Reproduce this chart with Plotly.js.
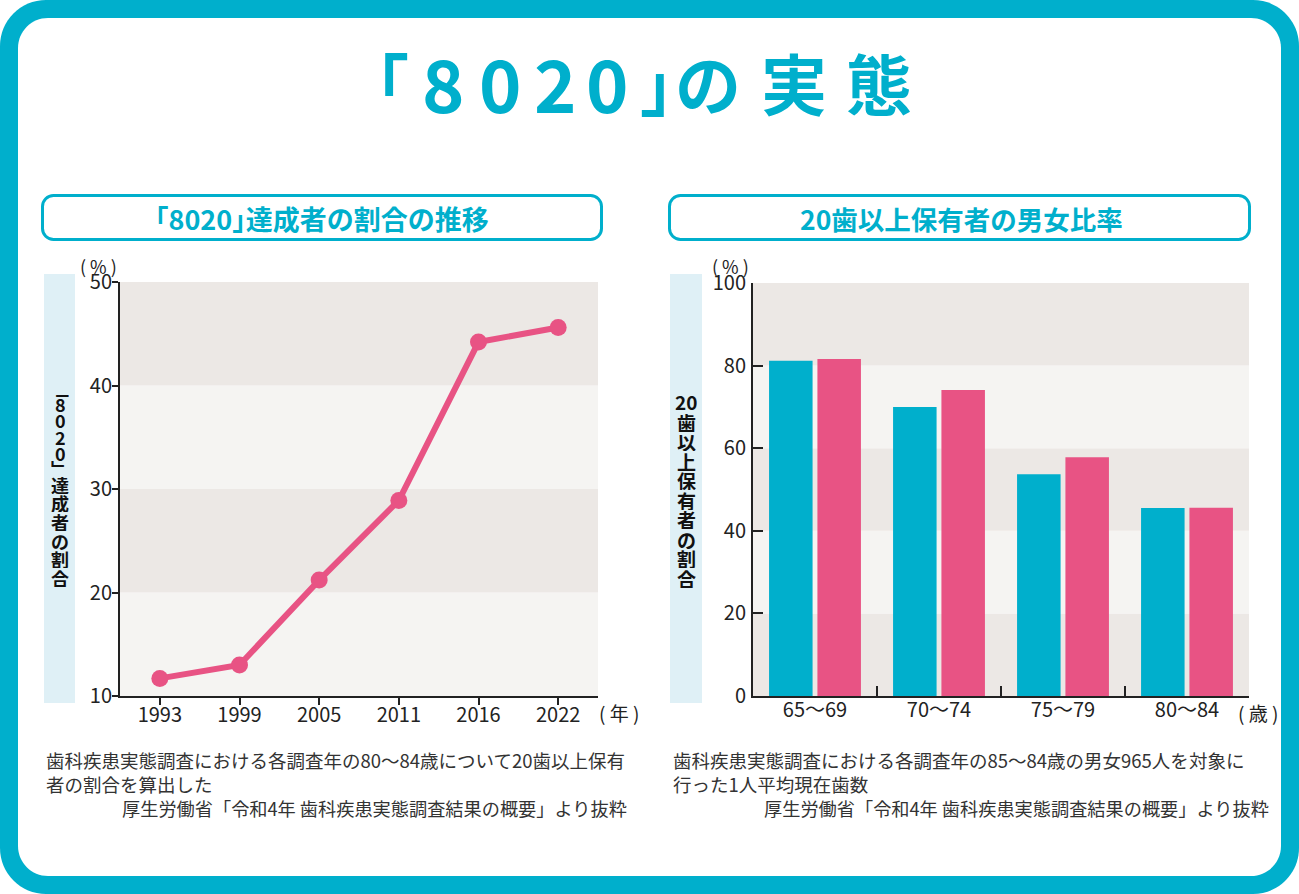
<!DOCTYPE html>
<html>
<head>
<meta charset="utf-8">
<script src="https://cdn.plot.ly/plotly-3.0.1.min.js"></script>
<style>
  html, body { margin: 0; padding: 0; background: #ffffff; }
  #chart { width: 1299px; height: 894px; }
</style>
</head>
<body>
<div id="chart"></div>
<script>
// ---- data ----
const years = ['1993', '1999', '2005', '2011', '2016', '2022'];
const rate8020 = [11.7, 13.0, 21.2, 28.9, 44.2, 45.6];

const ageGroups = ['65〜69', '70〜74', '75〜79', '80〜84'];
const maleRate = [81.2, 70.0, 53.7, 45.5];
const femaleRate = [81.6, 74.1, 57.8, 45.6];

const lineTicks = [10, 20, 30, 40, 50];
const barTicks = [0, 20, 40, 60, 80, 100];

// ---- styling ----
const W = 1299, H = 894;
const CYAN = '#00afcc';
const PINK = '#e85384';
const BAND_DARK = '#ece8e5';
const BAND_LIGHT = '#f5f4f2';
const FONT = '"Noto Sans CJK JP", "Noto Sans", sans-serif';
const TXT = '#222222';

const px = x => x / W;
const py = y => 1 - y / H;

function roundRectPath(x0, y0, x1, y1, r) {
  const k = 0.5523 * r;
  const P = (x, y) => px(x) + ',' + py(y);
  return 'M' + P(x0 + r, y0) +
    ' L' + P(x1 - r, y0) +
    ' C' + P(x1 - r + k, y0) + ' ' + P(x1, y0 + r - k) + ' ' + P(x1, y0 + r) +
    ' L' + P(x1, y1 - r) +
    ' C' + P(x1, y1 - r + k) + ' ' + P(x1 - r + k, y1) + ' ' + P(x1 - r, y1) +
    ' L' + P(x0 + r, y1) +
    ' C' + P(x0 + r - k, y1) + ' ' + P(x0, y1 - r + k) + ' ' + P(x0, y1 - r) +
    ' L' + P(x0, y0 + r) +
    ' C' + P(x0, y0 + r - k) + ' ' + P(x0 + r - k, y0) + ' ' + P(x0 + r, y0) + ' Z';
}

const shapes = [];
// outer frame
shapes.push({type: 'path', xref: 'paper', yref: 'paper', layer: 'below',
  path: roundRectPath(0, 0, W, H, 46), fillcolor: CYAN, line: {width: 0}});
shapes.push({type: 'path', xref: 'paper', yref: 'paper', layer: 'below',
  path: roundRectPath(18, 18, 1281, 876, 30), fillcolor: '#ffffff', line: {width: 0}});
// header boxes
shapes.push({type: 'path', xref: 'paper', yref: 'paper', layer: 'below',
  path: roundRectPath(42.5, 195.5, 601.5, 239.5, 11), fillcolor: '#ffffff', line: {color: CYAN, width: 3}});
shapes.push({type: 'path', xref: 'paper', yref: 'paper', layer: 'below',
  path: roundRectPath(669.5, 195.5, 1249.5, 239.5, 11), fillcolor: '#ffffff', line: {color: CYAN, width: 3}});
// axis title boxes
shapes.push({type: 'rect', xref: 'paper', yref: 'paper', layer: 'below',
  x0: px(44), x1: px(75), y0: py(703), y1: py(274), fillcolor: '#dff0f6', line: {width: 0}});
shapes.push({type: 'rect', xref: 'paper', yref: 'paper', layer: 'below',
  x0: px(670), x1: px(702), y0: py(703), y1: py(274), fillcolor: '#dff0f6', line: {width: 0}});

// bands (alternating, drawn on axes)
for (let i = 0; i < lineTicks.length - 1; i++) {
  const top = lineTicks.length - 2 - i;
  shapes.push({type: 'rect', xref: 'x', yref: 'y', layer: 'below',
    x0: -0.5, x1: years.length - 0.5, y0: lineTicks[i], y1: lineTicks[i + 1],
    fillcolor: (top % 2 === 0) ? BAND_DARK : BAND_LIGHT, line: {width: 0}});
}
for (let i = 0; i < barTicks.length - 1; i++) {
  const top = barTicks.length - 2 - i;
  shapes.push({type: 'rect', xref: 'x2', yref: 'y2', layer: 'below',
    x0: -0.5, x1: ageGroups.length - 0.5, y0: barTicks[i], y1: barTicks[i + 1],
    fillcolor: (top % 2 === 0) ? BAND_DARK : BAND_LIGHT, line: {width: 0}});
}

const annotations = [];
function addText(text, x, y, size, opts) {
  opts = opts || {};
  const a = {
    text: text, xref: 'paper', yref: 'paper', x: px(x), y: py(y),
    xanchor: opts.xanchor || 'center', yanchor: opts.yanchor || 'middle',
    showarrow: false, align: opts.align || 'left', borderpad: 0,
    font: {family: FONT, size: size, color: opts.color || TXT, weight: opts.weight || 400}
  };
  if (opts.height) a.height = opts.height;
  if (opts.width) a.width = opts.width;
  annotations.push(a);
}

// main title (spaced characters)
const titleChars = ['｢', '8', '0', '2', '0', '｣', 'の', '実', '態'];
const titleX = [392, 443, 500, 555, 607, 656, 708, 794, 879];
const titleSize = [66, 72, 72, 72, 72, 66, 66, 66, 66];
titleChars.forEach((c, i) => addText(c, titleX[i], 81, titleSize[i], {color: CYAN, weight: 700}));

// panel headers
addText('｢8020｣達成者の割合の推移', 322, 218, 27, {color: CYAN, weight: 700});
addText('20歯以上保有者の男女比率', 961, 218, 26.5, {color: CYAN, weight: 700});

// vertical axis titles (tategaki)
const leftTitle = ['﹁', '8', '0', '2', '0', '﹂', '達', '成', '者', 'の', '割', '合'];
const leftTitleY = [391, 404, 420, 437, 453, 467, 485, 503.5, 522, 540.5, 559, 577.5];
const leftStep = [13, 16, 16, 16, 16, 13, 18, 18, 18, 18, 18, 18];
leftTitle.forEach((c, i) => addText(c, 60, leftTitleY[i], 18, {weight: 700, color: '#111', height: leftStep[i]}));
const rightTitle = ['20', '歯', '以', '上', '保', '有', '者', 'の', '割', '合'];
const rightTitleY = [401, 422, 441.5, 461, 480.5, 500, 519.5, 539, 558.5, 578];
rightTitle.forEach((c, i) => addText(c, 686, rightTitleY[i], 19, {weight: 700, color: '#111', height: 19}));

// unit labels
addText('( % )', 99, 266, 18);
addText('( % )', 730, 266, 18);
addText('( 年 )', 619, 712, 19);
addText('( 歳 )', 1258, 712, 19);

// footnotes
const FN = 18.5;
addText('歯科疾患実態調査における各調査年の80〜84歳について20歯以上保有', 45, 760, FN, {xanchor: 'left', color: '#333'});
addText('者の割合を算出した', 45, 784, FN, {xanchor: 'left', color: '#333'});
addText('厚生労働省「令和4年 歯科疾患実態調査結果の概要」より抜粋', 628, 808, 18.2, {xanchor: 'right', color: '#333'});
addText('歯科疾患実態調査における各調査年の85〜84歳の男女965人を対象に', 672, 760, FN, {xanchor: 'left', color: '#333'});
addText('行った1人平均現在歯数', 672, 784, FN, {xanchor: 'left', color: '#333'});
addText('厚生労働省「令和4年 歯科疾患実態調査結果の概要」より抜粋', 1270, 808, 18.2, {xanchor: 'right', color: '#333'});

const traces = [
  {type: 'scatter', mode: 'lines+markers', x: years, y: rate8020,
   xaxis: 'x', yaxis: 'y', line: {color: PINK, width: 6},
   marker: {color: PINK, size: 17}, cliponaxis: false, hoverinfo: 'x+y'},
  {type: 'bar', name: '男性', x: ageGroups, y: maleRate, xaxis: 'x2', yaxis: 'y2',
   marker: {color: CYAN, line: {width: 0}}},
  {type: 'bar', name: '女性', x: ageGroups, y: femaleRate, xaxis: 'x2', yaxis: 'y2',
   marker: {color: PINK, line: {width: 0}}}
];

const axisCommon = {
  showline: true, linecolor: TXT, linewidth: 2, showgrid: false, zeroline: false,
  tickcolor: TXT, tickwidth: 2, fixedrange: true,
  tickfont: {family: FONT, size: 20, color: TXT}
};

const layout = {
  width: W, height: H,
  margin: {l: 0, r: 0, t: 0, b: 0},
  paper_bgcolor: 'rgba(0,0,0,0)',
  plot_bgcolor: 'rgba(0,0,0,0)',
  showlegend: false,
  barmode: 'group', bargap: 0.22, bargroupgap: 0.1,
  xaxis: Object.assign({}, axisCommon, {
    type: 'category', domain: [px(120), px(598)], range: [-0.5, years.length - 0.5],
    anchor: 'y', ticks: 'outside', ticklen: 7, ticklabelstandoff: -7
  }),
  yaxis: Object.assign({}, axisCommon, {
    domain: [py(696), py(282)], range: [10, 50], tickvals: lineTicks,
    anchor: 'x', ticks: 'outside', ticklen: 6, ticklabelstandoff: -4
  }),
  xaxis2: Object.assign({}, axisCommon, {
    type: 'category', domain: [px(753), px(1249)], range: [-0.5, ageGroups.length - 0.5],
    anchor: 'y2', ticks: 'inside', ticklen: 10, tickson: 'boundaries', ticklabelstandoff: -5
  }),
  yaxis2: Object.assign({}, axisCommon, {
    domain: [py(696), py(283)], range: [0, 100], tickvals: barTicks,
    anchor: 'x2', ticks: 'inside', ticklen: 10, ticklabelstandoff: 1
  }),
  shapes: shapes,
  annotations: annotations
};

Plotly.newPlot('chart', traces, layout, {displayModeBar: false, staticPlot: true});
</script>
</body>
</html>
